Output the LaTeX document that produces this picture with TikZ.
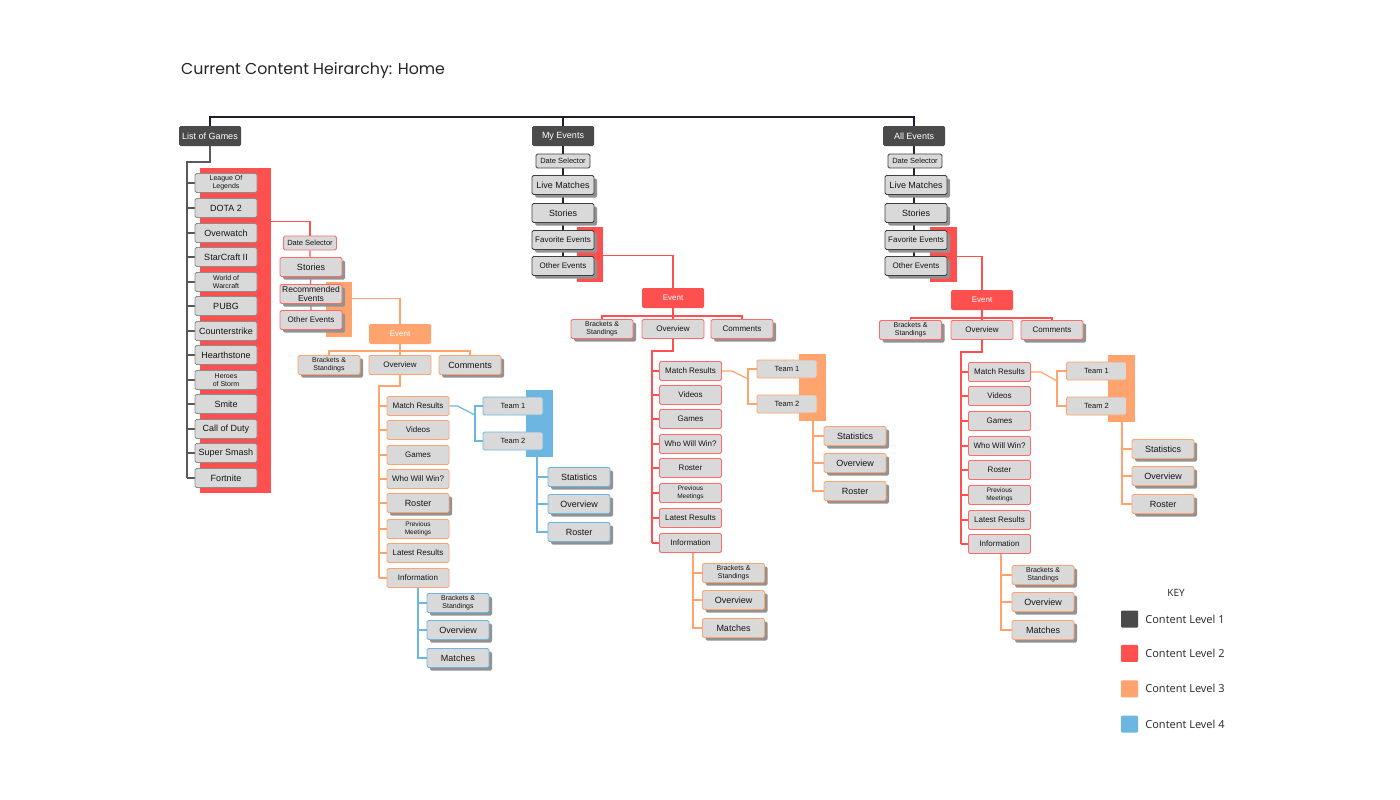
\documentclass[tikz,border=0pt]{standalone}
\usepackage{fontspec}
\usepackage{xcolor}
\usepackage{tikz}
\usetikzlibrary{positioning,shadows,backgrounds}

\newfontfamily\boxfont{Liberation Sans}
\newfontfamily\keyfont{Open Sans}
\newfontfamily\titlefont{Poppins}

\definecolor{lvA}{HTML}{4A4A4A}
\definecolor{lvB}{HTML}{FF5050}
\definecolor{lvC}{HTML}{FFA46E}
\definecolor{lvD}{HTML}{6CB6E2}
\definecolor{boxgray}{HTML}{D9D9D9}
\definecolor{shdgray}{HTML}{929292}
\definecolor{navy}{HTML}{1E1E30}

\begin{document}
\begin{tikzpicture}[x=1pt, y=-1pt,
  box/.style={rectangle, rounded corners=1.5pt, fill=boxgray, line width=0.9pt,
    minimum width=62pt, minimum height=19pt, inner sep=0pt, align=center,
    text=black!92, font=\boxfont\fontsize{8}{9}\selectfont},
  fbig/.style={font=\boxfont\fontsize{9}{10}\selectfont},
  fmid/.style={font=\boxfont\fontsize{8.5}{9}\selectfont},
  fsmall/.style={font=\boxfont\fontsize{7}{8}\selectfont},
  ftiny/.style={font=\boxfont\fontsize{6.5}{7.5}\selectfont},
  fdate/.style={font=\boxfont\fontsize{7.5}{8}\selectfont},
  fteam/.style={font=\boxfont\fontsize{7.5}{8}\selectfont},
  shd/.style={drop shadow={shadow xshift=3pt, shadow yshift=-3pt, fill=shdgray, opacity=1}},
  head/.style={box, fill=lvA, text=white, minimum height=20pt, fbig},
  evt/.style={box, text=white, minimum height=20pt},
  bxA/.style={box, draw=black!75},
  bxB/.style={box, draw=lvB!85},
  bxC/.style={box, draw=lvC},
  bxD/.style={box, draw=lvD},
  gamebox/.style={box, draw=black!45, fbig},
  datebox/.style={minimum width=54pt, minimum height=14pt, fdate},
  teambox/.style={minimum width=60pt, minimum height=18pt, fteam},
  band/.style={rectangle, inner sep=0pt, draw=none},
  lnTop/.style={line width=1.4pt, navy},
  lnG/.style={line width=1.2pt, black!65},
  lnA/.style={line width=1.2pt, black!85},
  lnB/.style={line width=1.2pt, lvB},
  lnC/.style={line width=1.2pt, lvC},
  lnD/.style={line width=1.2pt, lvD},
  keysq/.style={rectangle, rounded corners=1pt, minimum size=17pt, inner sep=0pt},
  keytx/.style={inner sep=0pt, anchor=west, text=black!85, font=\keyfont\fontsize{11}{13}\selectfont}]

  \useasboundingbox (0,0) rectangle (1400,800);

  % Title
  \node[anchor=west, inner sep=0pt, text=black!85, font=\titlefont\fontsize{15.8}{18}\selectfont]
    (title) at (181,71) {Current Content Heirarchy: Home};

  % Level 1 heads
  \node[head] (lg) at (210,136) {List of Games};
  \node[head] (me) at (563,136) {My Events};
  \node[head] (ae) at (914,136) {All Events};

  % ---------- List of Games ----------
  \node[gamebox, fsmall] (g1) at (226,183) {League Of\\Legends};
  \node[gamebox] (g2) at (226,208) {DOTA 2};
  \node[gamebox] (g3) at (226,233) {Overwatch};
  \node[gamebox] (g4) at (226,257) {StarCraft II};
  \node[gamebox, fsmall] (g5) at (226,282) {World of\\Warcraft};
  \node[gamebox] (g6) at (226,306) {PUBG};
  \node[gamebox] (g7) at (226,331) {Counterstrike};
  \node[gamebox] (g8) at (226,355) {Hearthstone};
  \node[gamebox, fsmall] (g9) at (226,380) {Heroes\\of Storm};
  \node[gamebox] (g10) at (226,404) {Smite};
  \node[gamebox] (g11) at (226,429) {Call of Duty};
  \node[gamebox] (g12) at (226,453) {Super Smash};
  \node[gamebox] (g13) at (226,478) {Fortnite};

  % game page
  \node[bxB, datebox, minimum width=53pt] (ds1) at (310,243) {Date Selector};
  \node[bxB, shd, fbig] (sto1) at (311,267) {Stories};
  \node[bxB, shd, fmid] (rec1) at (311,294) {Recommended\\Events};
  \node[bxB, shd] (oth1) at (311,320) {Other Events};

  % event (level 3)
  \node[evt, fill=lvC] (ev1) at (400,334) {Event};
  \node[bxC, shd, fsmall] (bs1) at (329,365) {Brackets \&\\Standings};
  \node[bxC] (ov1) at (400,365) {Overview};
  \node[bxC, shd, fbig] (cm1) at (470,365) {Comments};

  \node[bxC] (mr1) at (418,406) {Match Results};
  \node[bxC] (vd1) at (418,430) {Videos};
  \node[bxC] (gm1) at (418,455) {Games};
  \node[bxC] (ww1) at (418,479) {Who Will Win?};
  \node[bxC, shd, fbig] (rs1) at (418,503) {Roster};
  \node[bxC, ftiny] (pm1) at (418,529) {Previous\\Meetings};
  \node[bxC] (lr1) at (418,553) {Latest Results};
  \node[bxC] (in1) at (418,578) {Information};

  % level 4
  \node[bxD, teambox] (ta1) at (513,406) {Team 1};
  \node[bxD, teambox] (tb1) at (513,441) {Team 2};
  \node[bxD, shd, fbig] (sa1) at (579,477) {Statistics};
  \node[bxD, shd, fbig] (sb1) at (579,504) {Overview};
  \node[bxD, shd, fbig] (sc1) at (579,532) {Roster};
  \node[bxD, shd, fsmall] (ia1) at (458,603) {Brackets \&\\Standings};
  \node[bxD, shd, fbig] (ib1) at (458,630) {Overview};
  \node[bxD, shd, fbig] (ic1) at (458,658) {Matches};

  % ---------- My Events ----------
  \node[bxA, datebox] (ds2) at (563,161) {Date Selector};
  \node[bxA, shd, fbig] (lm2) at (563,185) {Live Matches};
  \node[bxA, shd, fbig] (sto2) at (563,213) {Stories};
  \node[bxA, shd] (fav2) at (563,240) {Favorite Events};
  \node[bxA, shd] (oth2) at (563,266) {Other Events};

  \node[evt, fill=lvB] (ev2) at (673,298) {Event};
  \node[bxB, shd, fsmall] (bs2) at (602,329) {Brackets \&\\Standings};
  \node[bxB] (ov2) at (673,329) {Overview};
  \node[bxB, shd] (cm2) at (742,329) {Comments};

  \node[bxB] (mr2) at (690.5,371) {Match Results};
  \node[bxB] (vd2) at (690.5,395) {Videos};
  \node[bxB] (gm2) at (690.5,419) {Games};
  \node[bxB] (ww2) at (690.5,444) {Who Will Win?};
  \node[bxB] (rs2) at (690.5,468) {Roster};
  \node[bxB, ftiny] (pm2) at (690.5,493) {Previous\\Meetings};
  \node[bxB] (lr2) at (690.5,518) {Latest Results};
  \node[bxB] (in2) at (690.5,543) {Information};

  \node[bxC, teambox] (ta2) at (787,369) {Team 1};
  \node[bxC, teambox] (tb2) at (787,404) {Team 2};
  \node[bxC, shd, fbig] (sa2) at (855,436) {Statistics};
  \node[bxC, shd, fbig] (sb2) at (855,463) {Overview};
  \node[bxC, shd, fbig] (sc2) at (855,491) {Roster};
  \node[bxC, shd, fsmall] (ia2) at (733.5,573) {Brackets \&\\Standings};
  \node[bxC, shd, fbig] (ib2) at (733.5,600) {Overview};
  \node[bxC, shd, fbig] (ic2) at (733.5,628) {Matches};

  % ---------- All Events ----------
  \node[bxA, datebox] (ds3) at (915,161) {Date Selector};
  \node[bxA, shd, fbig] (lm3) at (916,185) {Live Matches};
  \node[bxA, shd, fbig] (sto3) at (916,213) {Stories};
  \node[bxA, shd] (fav3) at (916,240) {Favorite Events};
  \node[bxA, shd] (oth3) at (916,266) {Other Events};

  \node[evt, fill=lvB] (ev3) at (982,300) {Event};
  \node[bxB, shd, fsmall] (bs3) at (910.5,330) {Brackets \&\\Standings};
  \node[bxB] (ov3) at (982,330) {Overview};
  \node[bxB, shd] (cm3) at (1052,330) {Comments};

  \node[bxB] (mr3) at (999.5,372) {Match Results};
  \node[bxB] (vd3) at (999.5,396) {Videos};
  \node[bxB] (gm3) at (999.5,421) {Games};
  \node[bxB] (ww3) at (999.5,446) {Who Will Win?};
  \node[bxB] (rs3) at (999.5,470) {Roster};
  \node[bxB, ftiny] (pm3) at (999.5,495) {Previous\\Meetings};
  \node[bxB] (lr3) at (999.5,520) {Latest Results};
  \node[bxB] (in3) at (999.5,544) {Information};

  \node[bxC, teambox] (ta3) at (1096.5,371) {Team 1};
  \node[bxC, teambox] (tb3) at (1096.5,406) {Team 2};
  \node[bxC, shd, fbig] (sa3) at (1163,449) {Statistics};
  \node[bxC, shd, fbig] (sb3) at (1163,476) {Overview};
  \node[bxC, shd, fbig] (sc3) at (1163,504) {Roster};
  \node[bxC, shd, fsmall] (ia3) at (1043,575) {Brackets \&\\Standings};
  \node[bxC, shd, fbig] (ib3) at (1043,602) {Overview};
  \node[bxC, shd, fbig] (ic3) at (1043,630) {Matches};

  % ---------- Key ----------
  \node[font=\keyfont\fontsize{10}{12}\selectfont, text=black!85] (key) at (1176,593) {KEY};
  \node[keysq, fill=lvA] (ka) at (1129.5,619) {};
  \node[keysq, fill=lvB, below=17pt of ka] (kb) {};
  \node[keysq, fill=lvC, below=18pt of kb] (kc) {};
  \node[keysq, fill=lvD, below=18pt of kc] (kd) {};
  \node[keytx, right=7pt of ka] (kta) {Content Level 1};
  \node[keytx, right=7pt of kb] (ktb) {Content Level 2};
  \node[keytx, right=7pt of kc] (ktc) {Content Level 3};
  \node[keytx, right=7pt of kd] (ktd) {Content Level 4};

  \begin{scope}[on background layer]
    \fill[white] (0,0) rectangle (1400,800);

    % colour bands
    \node[band, fill=lvB, minimum width=71pt, minimum height=325pt] (bandA) at (235.5,330.5) {};
    \node[band, fill=lvC, minimum width=26pt, minimum height=55pt] (bandC1) at (339,309.5) {};
    \node[band, fill=lvD, minimum width=27pt, minimum height=67pt] (bandD1) at (539.5,423.5) {};
    \node[band, fill=lvB, minimum width=26pt, minimum height=55pt] (bandB2) at (590,254.5) {};
    \node[band, fill=lvC, minimum width=27pt, minimum height=67pt] (bandC2) at (812.5,387.5) {};
    \node[band, fill=lvB, minimum width=27pt, minimum height=55pt] (bandB3) at (943.5,254.5) {};
    \node[band, fill=lvC, minimum width=27pt, minimum height=67pt] (bandC3) at (1121.5,388.5) {};

    % top bar
    \coordinate (tl) at (563,117);
    \draw[lnTop] (lg.north) |- (tl) -| (ae.north);
    \draw[lnTop] (tl) -- (me.north);

    % List of Games
    \coordinate (gtop) at (187,162);
    \draw[lnG] (lg.south) |- (gtop) -- (gtop |- g13.west);
    \foreach \i in {1,...,13} \draw[lnG] (gtop |- g\i.west) -- (g\i.west);

    \draw[lnB] ([yshift=-54pt]bandA.north east) -| (ds1.north);
    \draw[lnB] (ds1.south) -- (oth1.north);
    \draw[lnC] ([yshift=-17pt]bandC1.north east) -| (ev1.north);
    \coordinate (j1) at (400,351);
    \draw[lnC] (bs1.north) |- (j1) -| (cm1.north);
    \draw[lnC] (ev1.south) -- (ov1.north);
    \coordinate (k1) at (379,386);
    \draw[lnC] (ov1.south) |- (k1) -- (k1 |- in1.west);
    \foreach \n in {mr1,vd1,gm1,ww1,rs1,pm1,lr1,in1} \draw[lnC] (k1 |- \n.west) -- (\n.west);
    \coordinate (m1) at (475,415);
    \draw[lnD] (mr1.east) -- ++(8,0) -- (m1);
    \draw[lnD] (ta1.west) -| (m1) |- (tb1.west);
    \coordinate (s1) at ([xshift=-2.5pt]bandD1.south);
    \draw[lnD] (s1) |- (sc1.west);
    \draw[lnD] (s1 |- sa1.west) -- (sa1.west);
    \draw[lnD] (s1 |- sb1.west) -- (sb1.west);
    \draw[lnD] (in1.south) |- (ic1.west);
    \draw[lnD] (in1.south |- ia1.west) -- (ia1.west);
    \draw[lnD] (in1.south |- ib1.west) -- (ib1.west);

    % My Events
    \draw[lnA] (me.south) -- (oth2.north);
    \draw[lnB] ([yshift=-29pt]bandB2.north east) -| (ev2.north);
    \coordinate (j2) at (673,316);
    \draw[lnB] (bs2.north) |- (j2) -| (cm2.north);
    \draw[lnB] (ev2.south) -- (ov2.north);
    \coordinate (k2) at (652,351);
    \draw[lnB] (ov2.south) |- (k2) -- (k2 |- in2.west);
    \foreach \n in {mr2,vd2,gm2,ww2,rs2,pm2,lr2,in2} \draw[lnB] (k2 |- \n.west) -- (\n.west);
    \coordinate (m2) at (748,379);
    \draw[lnC] (mr2.east) -- ++(10,0) -- (m2);
    \draw[lnC] (ta2.west) -| (m2) |- (tb2.west);
    \coordinate (s2) at ([xshift=0.5pt]bandC2.south);
    \draw[lnC] (s2) |- (sc2.west);
    \draw[lnC] (s2 |- sa2.west) -- (sa2.west);
    \draw[lnC] (s2 |- sb2.west) -- (sb2.west);
    \coordinate (n2) at ([xshift=2.5pt]in2.south);
    \draw[lnC] (n2) |- (ic2.west);
    \draw[lnC] (n2 |- ia2.west) -- (ia2.west);
    \draw[lnC] (n2 |- ib2.west) -- (ib2.west);

    % All Events
    \draw[lnA] (ae.south) -- (ae.south |- oth3.north);
    \draw[lnB] ([yshift=-30pt]bandB3.north east) -| (ev3.north);
    \coordinate (j3) at (982,318);
    \draw[lnB] (bs3.north) |- (j3) -| (cm3.north);
    \draw[lnB] (ev3.south) -- (ov3.north);
    \coordinate (k3) at (961,352);
    \draw[lnB] (ov3.south) |- (k3) -- (k3 |- in3.west);
    \foreach \n in {mr3,vd3,gm3,ww3,rs3,pm3,lr3,in3} \draw[lnB] (k3 |- \n.west) -- (\n.west);
    \coordinate (m3) at (1057,381);
    \draw[lnC] (mr3.east) -- ++(10,0) -- (m3);
    \draw[lnC] (ta3.west) -| (m3) |- (tb3.west);
    \coordinate (s3) at ([xshift=0.5pt]bandC3.south);
    \draw[lnC] (s3) |- (sc3.west);
    \draw[lnC] (s3 |- sa3.west) -- (sa3.west);
    \draw[lnC] (s3 |- sb3.west) -- (sb3.west);
    \coordinate (n3) at ([xshift=1.5pt]in3.south);
    \draw[lnC] (n3) |- (ic3.west);
    \draw[lnC] (n3 |- ia3.west) -- (ia3.west);
    \draw[lnC] (n3 |- ib3.west) -- (ib3.west);
  \end{scope}
\end{tikzpicture}
\end{document}
